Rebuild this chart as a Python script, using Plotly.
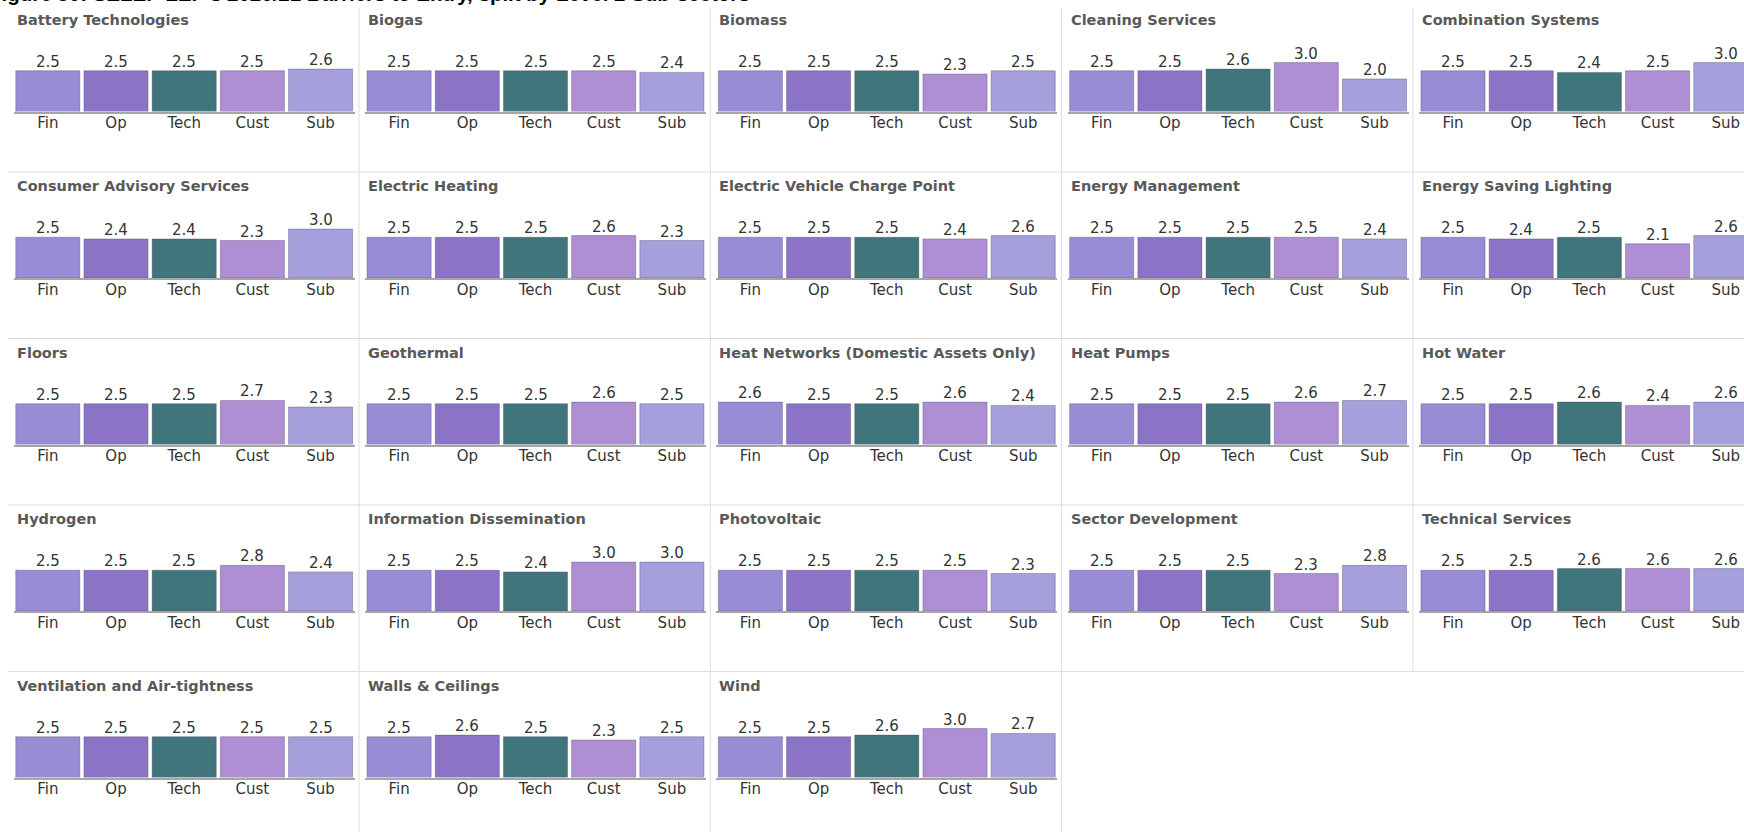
import plotly.graph_objects as go

# ---------------- data ----------------
categories = ["Fin", "Op", "Tech", "Cust", "Sub"]

sectors = [
    "Battery Technologies", "Biogas", "Biomass", "Cleaning Services", "Combination Systems",
    "Consumer Advisory Services", "Electric Heating", "Electric Vehicle Charge Point",
    "Energy Management", "Energy Saving Lighting",
    "Floors", "Geothermal", "Heat Networks (Domestic Assets Only)", "Heat Pumps", "Hot Water",
    "Hydrogen", "Information Dissemination", "Photovoltaic", "Sector Development", "Technical Services",
    "Ventilation and Air-tightness", "Walls & Ceilings", "Wind",
]

fin = [2.5, 2.5, 2.5, 2.5, 2.5,
       2.5, 2.5, 2.5, 2.5, 2.5,
       2.5, 2.5, 2.6, 2.5, 2.5,
       2.5, 2.5, 2.5, 2.5, 2.5,
       2.5, 2.5, 2.5]
op = [2.5, 2.5, 2.5, 2.5, 2.5,
      2.4, 2.5, 2.5, 2.5, 2.4,
      2.5, 2.5, 2.5, 2.5, 2.5,
      2.5, 2.5, 2.5, 2.5, 2.5,
      2.5, 2.6, 2.5]
tech = [2.5, 2.5, 2.5, 2.6, 2.4,
        2.4, 2.5, 2.5, 2.5, 2.5,
        2.5, 2.5, 2.5, 2.5, 2.6,
        2.5, 2.4, 2.5, 2.5, 2.6,
        2.5, 2.5, 2.6]
cust = [2.5, 2.5, 2.3, 3.0, 2.5,
        2.3, 2.6, 2.4, 2.5, 2.1,
        2.7, 2.6, 2.6, 2.6, 2.4,
        2.8, 3.0, 2.5, 2.3, 2.6,
        2.5, 2.3, 3.0]
sub = [2.6, 2.4, 2.5, 2.0, 3.0,
       3.0, 2.3, 2.6, 2.4, 2.6,
       2.3, 2.5, 2.4, 2.7, 2.6,
       2.4, 3.0, 2.3, 2.8, 2.6,
       2.5, 2.5, 2.7]

fig_title = "Figure 50: SELEP LEP's 2020/21 Barriers to Entry, split by Level 2 Sub-sectors"

# ---------------- style ----------------
W, H = 1744, 832
bar_colors = ["#9a8cd4", "#8b74c6", "#41757c", "#ae8fd3", "#a59fdb"]
FONT = "DejaVu Sans"
NCOLS = 5

col_sep0, col_step = 7.7, 351.3
row_top0, row_step = 5.5, 166.5
px_per_unit = 16.3


def px_x(v):
    return v / W


def px_y(v):
    return 1 - v / H


fig = go.Figure()
annotations = []
shapes = []

for i, name in enumerate(sectors):
    r, c = divmod(i, NCOLS)
    sep = col_sep0 + col_step * c
    rt = row_top0 + row_step * r
    x0 = sep + 6
    x1_full = sep + 347
    x1 = min(x1_full, W)
    base = rt + 106
    top = rt + 30
    y_hi = (base - top) / px_per_unit
    x_hi = -0.5 + 5 * (x1 - x0) / (x1_full - x0)

    k = i + 1
    xa = "x" if k == 1 else f"x{k}"
    ya = "y" if k == 1 else f"y{k}"
    vals = [fin[i], op[i], tech[i], cust[i], sub[i]]
    fig.add_trace(go.Bar(
        x=categories, y=vals, xaxis=xa, yaxis=ya,
        marker=dict(color=bar_colors, line=dict(color="rgba(70,60,100,0.35)", width=1)),
        showlegend=False, hoverinfo="skip",
    ))
    for cat, v in zip(categories, vals):
        annotations.append(dict(
            text=f"{v:.1f}", x=cat, y=v, xref=xa, yref=ya,
            xanchor="center", yanchor="bottom", yshift=-2, showarrow=False,
            font=dict(family=FONT, size=15, color="#333333"),
        ))
    fig.layout[f"xaxis{'' if k == 1 else k}"] = dict(
        domain=[px_x(x0), px_x(x1)], anchor=ya, type="category",
        categoryorder="array", categoryarray=categories,
        range=[-0.5, x_hi], showline=True, linecolor="#a6a6a6", linewidth=1.5,
        showgrid=False, zeroline=False, ticks="", fixedrange=True,
        ticklabelstandoff=-3,
        tickfont=dict(family=FONT, size=15, color="#333333"),
    )
    fig.layout[f"yaxis{'' if k == 1 else k}"] = dict(
        domain=[px_y(base), px_y(top)], anchor=xa, range=[0, y_hi],
        visible=False, showgrid=False, zeroline=False, fixedrange=True,
    )
    annotations.append(dict(
        text=f"<b>{name}</b>", x=px_x(sep + 7), y=px_y(rt + 14),
        xref="paper", yref="paper", xanchor="left", yanchor="middle",
        showarrow=False, font=dict(family=FONT, size=14.5, color="#595959"),
    ))

# grid separator lines
line_col = "#dcdcdc"
for r in range(1, 5):
    y = row_top0 + row_step * r
    shapes.append(dict(type="line", xref="paper", yref="paper",
                       x0=px_x(8), x1=1, y0=px_y(y), y1=px_y(y),
                       line=dict(color=line_col, width=1)))
for c in range(1, 5):
    x = col_sep0 + col_step * c
    y_end = H if c < 4 else row_top0 + row_step * 4
    shapes.append(dict(type="line", xref="paper", yref="paper",
                       x0=px_x(x), x1=px_x(x), y0=px_y(8), y1=px_y(y_end),
                       line=dict(color=line_col, width=1)))

annotations.append(dict(
    text=f"<b>{fig_title}</b>", x=px_x(-13), y=px_y(7),
    xref="paper", yref="paper", xanchor="left", yanchor="bottom",
    showarrow=False, font=dict(family="Liberation Sans", size=20.5, color="#000000"),
))

fig.update_layout(
    width=W, height=H, margin=dict(l=0, r=0, t=0, b=0),
    paper_bgcolor="white", plot_bgcolor="white",
    bargap=0.06, annotations=annotations, shapes=shapes,
    font=dict(family=FONT),
)

fig.write_html(
    "out.html",
    config={"displayModeBar": False},
    post_script="document.body.style.margin='0';document.body.style.overflow='hidden';",
)
